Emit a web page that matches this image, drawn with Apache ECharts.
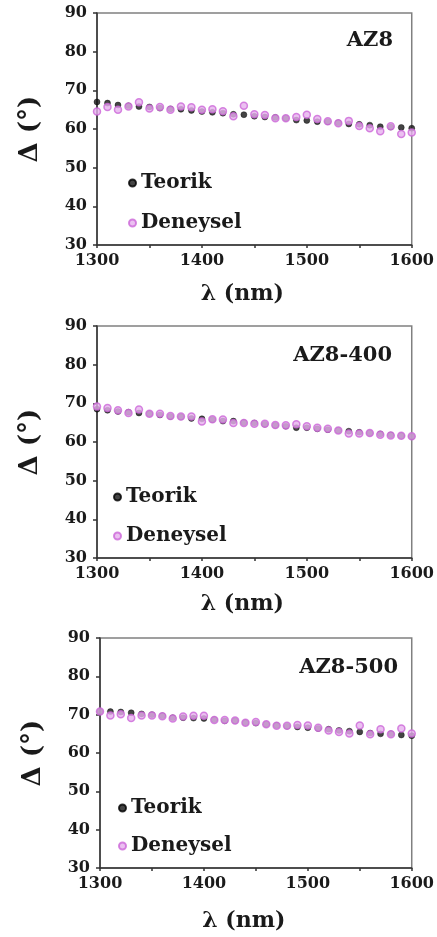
<!DOCTYPE html>
<html>
<head>
<meta charset="utf-8">
<script src="https://cdn.jsdelivr.net/npm/echarts@6/dist/echarts.min.js"></script>
<style>
  html, body { margin: 0; padding: 0; background: #fff; }
  #chart { width: 437px; height: 937px; }
</style>
</head>
<body>
<div id="chart"></div>
<script>
// wavelengths (nm)
const wavelengths = [1300, 1310, 1320, 1330, 1340, 1350, 1360, 1370, 1380, 1390,
  1400, 1410, 1420, 1430, 1440, 1450, 1460, 1470, 1480, 1490,
  1500, 1510, 1520, 1530, 1540, 1550, 1560, 1570, 1580, 1590, 1600]

const panelTitles = ['AZ8', 'AZ8-400', 'AZ8-500']
const xTickLabels = [1300, 1400, 1500, 1600]
const yTickLabels = [30, 40, 50, 60, 70, 80, 90]

// AZ8
const az8Teorik = [67.0, 66.7, 66.2, 66.0, 65.8, 65.7, 65.4, 65.2, 65.1, 64.8,
  64.5, 64.3, 64.1, 63.8, 63.7, 63.3, 63.1, 63.0, 62.8, 62.3,
  62.2, 61.9, 61.9, 61.6, 61.3, 61.2, 61.0, 60.6, 60.5, 60.4, 60.2]
const az8Deneysel = [64.5, 65.7, 65.0, 65.8, 66.9, 65.3, 65.7, 65.0, 65.8, 65.6,
  65.0, 65.1, 64.6, 63.3, 66.0, 63.8, 63.6, 62.8, 62.8, 63.1,
  63.7, 62.6, 62.0, 61.5, 62.1, 60.8, 60.2, 59.4, 60.7, 58.7, 59.1]

// AZ8-400
const az400Teorik = [68.5, 68.2, 67.9, 67.7, 67.5, 67.3, 67.0, 66.6, 66.5, 66.1,
  66.0, 65.8, 65.4, 65.4, 65.0, 64.9, 64.6, 64.3, 64.1, 63.7,
  63.7, 63.4, 63.2, 63.0, 62.8, 62.5, 62.3, 62.1, 61.8, 61.6, 61.4]
const az400Deneysel = [69.2, 68.8, 68.2, 67.5, 68.4, 67.3, 67.3, 66.7, 66.6, 66.6,
  65.3, 65.9, 65.8, 64.9, 64.9, 64.7, 64.7, 64.4, 64.3, 64.6,
  64.1, 63.7, 63.4, 63.0, 62.2, 62.2, 62.3, 61.9, 61.7, 61.6, 61.5]

// AZ8-500
const az500Teorik = [70.8, 70.8, 70.7, 70.5, 70.2, 70.0, 69.7, 69.2, 69.2, 69.1,
  69.0, 68.7, 68.4, 68.4, 67.9, 67.8, 67.5, 67.2, 67.0, 66.8,
  66.6, 66.4, 66.2, 65.9, 65.7, 65.5, 65.2, 65.0, 65.0, 64.7, 64.5]
const az500Deneysel = [70.8, 69.8, 70.1, 69.1, 69.8, 69.8, 69.6, 69.0, 69.5, 69.7,
  69.7, 68.6, 68.6, 68.5, 67.9, 68.1, 67.5, 67.1, 67.1, 67.3,
  67.2, 66.6, 65.9, 65.5, 65.1, 67.2, 64.9, 66.2, 64.9, 66.4, 65.1]

const teorikSets = [az8Teorik, az400Teorik, az500Teorik]
const deneyselSets = [az8Deneysel, az400Deneysel, az500Deneysel]

const FONT = 'DejaVu Serif'
const INK = '#1a1a1a'

// panel layout: grid box, legend anchor, title anchor
const panels = [
  { left: 97, top: 13, width: 318, height: 232, legendLeft: 128, legendTop: 173, gap: 20, titleRight: 39, titleTop: 25, nameGap: 38 },
  { left: 97, top: 326, width: 316, height: 232, legendLeft: 113, legendTop: 487, gap: 19, titleRight: 40, titleTop: 340, nameGap: 35 },
  { left: 100, top: 638, width: 318, height: 230, legendLeft: 118, legendTop: 798, gap: 18, titleRight: 34, titleTop: 652, nameGap: 42 }
]

function pairs(values) {
  return wavelengths.map((w, i) => [w, values[i]])
}

const option = {
  backgroundColor: '#fff',
  animation: false,
  title: [],
  legend: [],
  grid: [],
  xAxis: [],
  yAxis: [],
  series: []
}

panels.forEach((p, i) => {
  option.grid.push({
    left: p.left,
    top: p.top,
    width: p.width,
    height: p.height,
    show: true,
    borderColor: '#808080',
    borderWidth: 1.5,
    backgroundColor: 'transparent'
  })

  option.title.push({
    text: panelTitles[i],
    right: p.titleRight,
    top: p.titleTop,
    textStyle: { fontFamily: FONT, fontWeight: 'bold', fontSize: 21, color: INK }
  })

  option.legend.push({
    orient: 'vertical',
    left: p.legendLeft,
    top: p.legendTop,
    padding: 0,
    itemGap: p.gap,
    itemWidth: 7,
    itemHeight: 7,
    icon: 'circle',
    data: ['Teorik', 'Deneysel'],
    textStyle: { fontFamily: FONT, fontWeight: 'bold', fontSize: 20, lineHeight: 20, color: INK }
  })

  option.xAxis.push({
    type: 'value',
    gridIndex: i,
    min: 1300,
    max: 1600,
    interval: 50,
    name: 'λ (nm)',
    nameLocation: 'middle',
    nameGap: p.nameGap,
    nameTextStyle: { fontFamily: FONT, fontWeight: 'bold', fontSize: 22, color: INK, padding: [0, 24, 0, 0] },
    axisLine: { lineStyle: { color: '#333', width: 1.5 } },
    axisTick: { length: 3, lineStyle: { color: '#333', width: 1.5 } },
    axisLabel: {
      margin: 8,
      fontFamily: FONT, fontWeight: 'bold', fontSize: 16, color: INK,
      formatter: v => (xTickLabels.includes(v) ? String(v) : '')
    },
    splitLine: { show: false }
  })

  option.yAxis.push({
    type: 'value',
    gridIndex: i,
    min: 30,
    max: 90,
    interval: 10,
    name: 'Δ (°)',
    nameLocation: 'middle',
    nameRotate: 90,
    nameGap: 54,
    nameTextStyle: { fontFamily: FONT, fontWeight: 'bold', fontSize: 26, color: INK },
    axisLine: { lineStyle: { color: '#333', width: 1.5 } },
    axisTick: { length: 4, lineStyle: { color: '#333', width: 1.5 } },
    axisLabel: {
      margin: 10,
      fontFamily: FONT, fontWeight: 'bold', fontSize: 16, color: INK,
      formatter: v => (yTickLabels.includes(v) ? String(v) : '')
    },
    splitLine: { show: false }
  })

  option.series.push({
    name: 'Teorik',
    type: 'scatter',
    xAxisIndex: i,
    yAxisIndex: i,
    symbol: 'circle',
    symbolSize: 6,
    itemStyle: { color: '#151515', borderColor: '#000', borderWidth: 0.5 },
    data: pairs(teorikSets[i])
  })

  option.series.push({
    name: 'Deneysel',
    type: 'scatter',
    xAxisIndex: i,
    yAxisIndex: i,
    symbol: 'circle',
    symbolSize: 7,
    itemStyle: { color: '#e6b0ee', borderColor: '#cc66d8', borderWidth: 1.5 },
    data: pairs(deneyselSets[i])
  })
})

const chart = echarts.init(document.getElementById('chart'))
chart.setOption(option)
</script>
</body>
</html>
